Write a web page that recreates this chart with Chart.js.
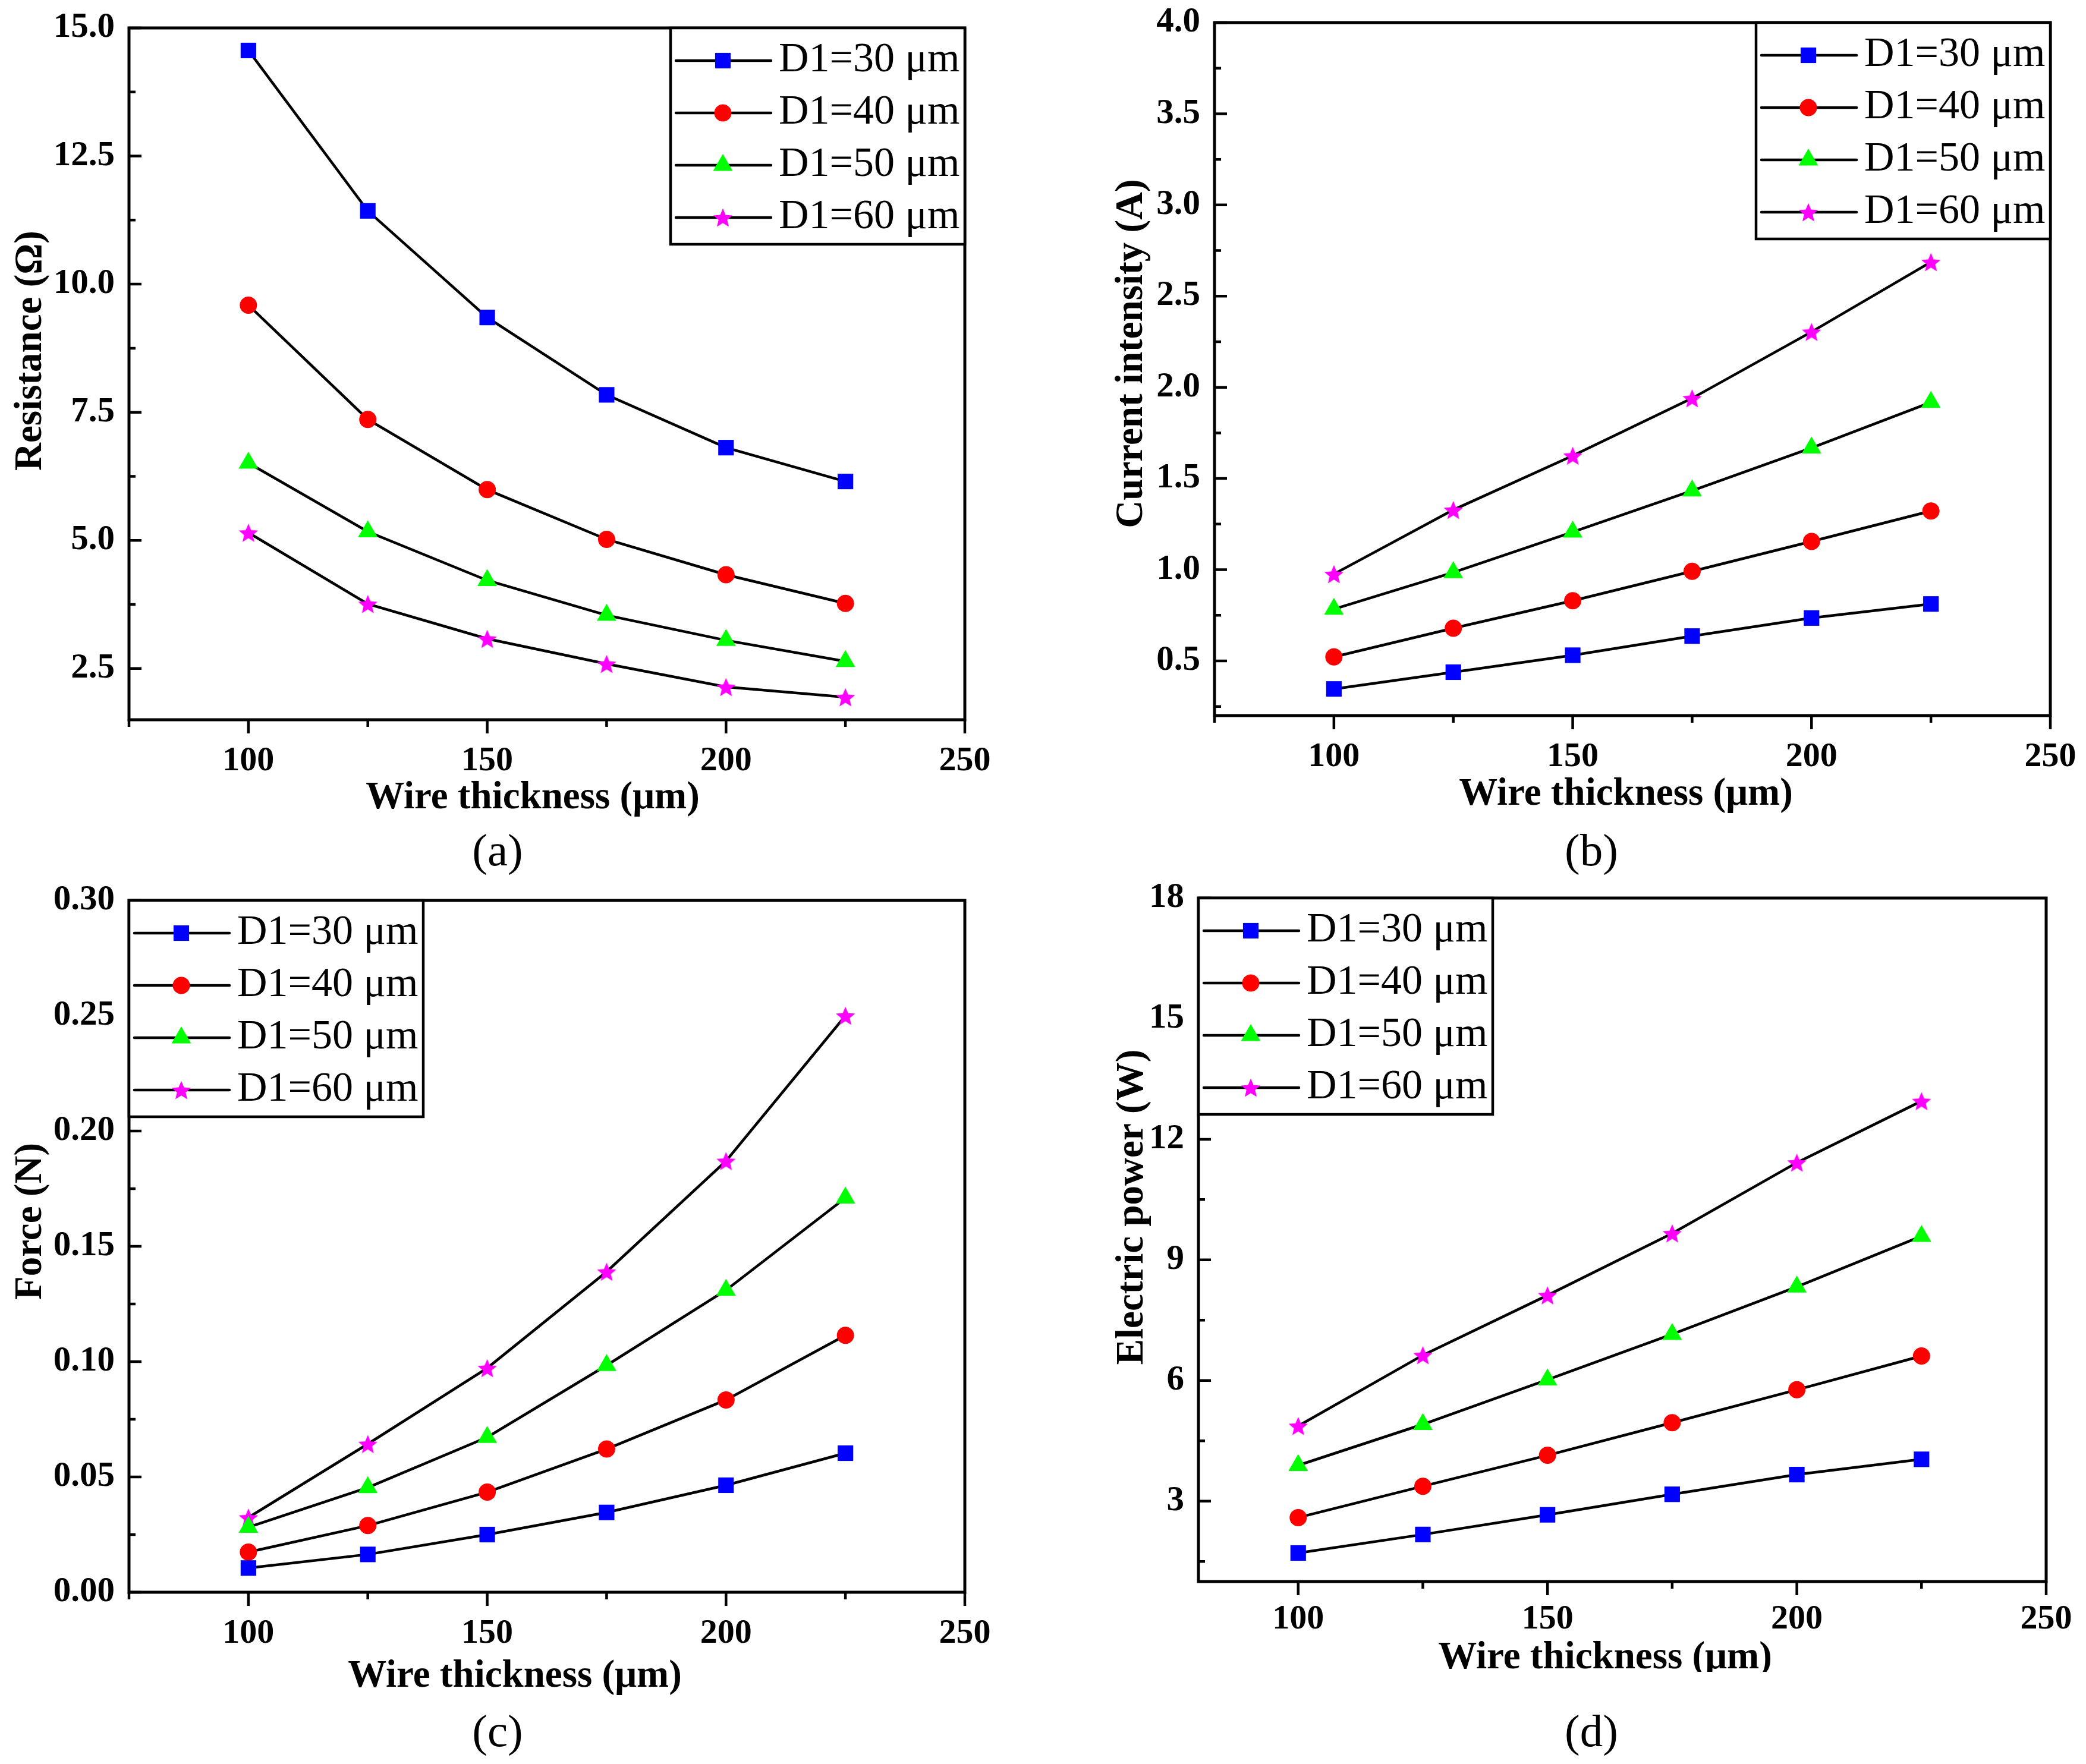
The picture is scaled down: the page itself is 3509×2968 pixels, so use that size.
<!DOCTYPE html>
<html>
<head>
<meta charset="utf-8">
<script src="https://cdn.jsdelivr.net/npm/chart.js@4.4.1/dist/chart.umd.min.js"></script>
<style>
html, body { margin: 0; padding: 0; background: #fff; }
body { width: 3509px; height: 2968px; position: relative; overflow: hidden; }
.wrap { position: absolute; overflow: hidden; }
.tag { position: absolute; font-family: "Liberation Serif", "Times New Roman", serif; font-size: 77px;
       line-height: 1; transform: translate(-50%, -50%); color: #000; }
</style>
</head>
<body>
<div class="wrap" id="wa"><canvas id="ca"></canvas></div>
<div class="wrap" id="wb"><canvas id="cb"></canvas></div>
<div class="wrap" id="wc"><canvas id="cc"></canvas></div>
<div class="wrap" id="wd"><canvas id="cd"></canvas></div>
<div class="tag" style="left:837px; top:1430px;">(a)</div>
<div class="tag" style="left:2677px; top:1430px;">(b)</div>
<div class="tag" style="left:837px; top:2912px;">(c)</div>
<div class="tag" style="left:2677px; top:2912px;">(d)</div>
<script>
// x values (wire thickness, um)
var thickness = [100, 125, 150, 175, 200, 225];
var seriesNames = ["D1=30 μm", "D1=40 μm", "D1=50 μm", "D1=60 μm"];

// (a) resistance (ohm)
var resist30 = [14.56, 11.43, 9.35, 7.84, 6.81, 6.15];
var resist40 = [9.59, 7.36, 5.99, 5.02, 4.33, 3.77];
var resist50 = [6.51, 5.17, 4.22, 3.54, 3.05, 2.64];
var resist60 = [5.15, 3.76, 3.08, 2.59, 2.14, 1.94];

// (b) current intensity (A)
var current30 = [0.346, 0.438, 0.531, 0.636, 0.735, 0.812];
var current40 = [0.522, 0.679, 0.830, 0.991, 1.155, 1.322];
var current50 = [0.784, 0.985, 1.207, 1.433, 1.668, 1.918];
var current60 = [0.976, 1.328, 1.625, 1.940, 2.304, 2.687];

// (c) force (N)
var force30 = [0.0105, 0.0164, 0.0250, 0.0346, 0.0464, 0.0603];
var force40 = [0.0174, 0.0289, 0.0434, 0.0621, 0.0834, 0.1114];
var force50 = [0.0282, 0.0454, 0.0672, 0.0984, 0.1310, 0.1710];
var force60 = [0.0324, 0.0643, 0.0972, 0.1390, 0.1870, 0.2500];

// (d) electric power (W)
var power30 = [1.71, 2.17, 2.66, 3.17, 3.66, 4.04];
var power40 = [2.59, 3.37, 4.14, 4.95, 5.77, 6.61];
var power50 = [3.89, 4.91, 6.02, 7.15, 8.33, 9.59];
var power60 = [4.87, 6.63, 8.12, 9.66, 11.42, 12.95];

// tick labels
var xTicks = [100, 150, 200, 250];
var resistTicks = [2.5, 5.0, 7.5, 10.0, 12.5, 15.0];
var currentTicks = [0.5, 1.0, 1.5, 2.0, 2.5, 3.0, 3.5, 4.0];
var forceTicks = [0.00, 0.05, 0.10, 0.15, 0.20, 0.25, 0.30];
var powerTicks = [3, 6, 9, 12, 15, 18];

var SERIF = '"Liberation Serif", "Times New Roman", serif';
var markerColors = ['#0000FF', '#FF0000', '#00FF00', '#FF00FF'];

function makeStar(size, color) {
    var c = document.createElement('canvas');
    c.width = size; c.height = size;
    var g = c.getContext('2d');
    var R = size / 2 - 1, r = R * 0.45;
    var cx = size / 2, cy = size / 2 + R * 0.1;
    g.beginPath();
    for (var i = 0; i < 10; i++) {
        var a = -Math.PI / 2 + i * Math.PI / 5;
        var rr = i % 2 ? r : R;
        g.lineTo(cx + rr * Math.cos(a), cy + rr * Math.sin(a));
    }
    g.closePath();
    g.fillStyle = color;
    g.fill();
    return c;
}
var star = makeStar(36, '#FF00FF');
var markerStyles = ['rect', 'circle', 'triangle', star];
var markerRadius = [18.5, 14.5, 19, 18];

function minorsOf(majors, min, max) {
    var step = majors[1] - majors[0];
    var out = [];
    for (var v = majors[0] - step / 2; v <= max + 1e-9; v += step) {
        if (v >= min - 1e-9) out.push(v);
    }
    return out;
}

function makeChart(p) {
    var wrap = document.getElementById(p.wrapId);
    var canvas = document.getElementById(p.canvasId);
    wrap.style.left = p.left + 'px';
    wrap.style.top = p.top + 'px';
    wrap.style.width = p.width + 'px';
    wrap.style.height = p.clipH + 'px';
    canvas.width = p.width;
    canvas.height = p.height;

    var yW = p.area.l - p.left;
    var xH = p.top + p.height - p.area.b;
    var xMinor = minorsOf(xTicks, p.xMin, 250);
    var yMinor = minorsOf(p.yTicks, p.yMin, p.yMax);

    var datasets = p.series.map(function (vals, i) {
        return {
            label: seriesNames[i],
            data: thickness.map(function (t, k) { return {x: t, y: vals[k]}; }),
            borderColor: '#000',
            borderWidth: 4.5,
            pointStyle: markerStyles[i],
            pointRadius: markerRadius[i],
            pointBackgroundColor: markerColors[i],
            pointBorderWidth: 0,
            pointHoverRadius: markerRadius[i],
            tension: 0,
            fill: false
        };
    });

    var axesPlugin = {
        id: 'axesPlugin',
        beforeDatasetsDraw: function (chart) {
            var ctx = chart.ctx, a = chart.chartArea;
            var xs = chart.scales.x, ys = chart.scales.y;
            ctx.save();
            ctx.strokeStyle = '#000';
            ctx.lineWidth = 4.5;
            ctx.beginPath();
            xs.ticks.forEach(function (t) {
                var px = xs.getPixelForValue(t.value);
                ctx.moveTo(px, a.bottom); ctx.lineTo(px, a.bottom + 23);
            });
            xMinor.forEach(function (v) {
                var px = xs.getPixelForValue(v);
                ctx.moveTo(px, a.bottom); ctx.lineTo(px, a.bottom + 12);
            });
            ys.ticks.forEach(function (t) {
                var py = ys.getPixelForValue(t.value);
                ctx.moveTo(a.left, py); ctx.lineTo(a.left + 21, py);
            });
            yMinor.forEach(function (v) {
                var py = ys.getPixelForValue(v);
                ctx.moveTo(a.left, py); ctx.lineTo(a.left + 11, py);
            });
            ctx.stroke();
            ctx.lineWidth = 5;
            ctx.strokeRect(a.left, a.top, a.right - a.left, a.bottom - a.top);

            // axis titles
            ctx.fillStyle = '#000';
            ctx.font = 'bold 65px ' + SERIF;
            ctx.textAlign = 'center';
            ctx.textBaseline = 'middle';
            ctx.fillText('Wire thickness (μm)', p.xTitle[0] - p.left, p.xTitle[1] - p.top);
            ctx.translate(p.yTitle[0] - p.left, p.yTitle[1] - p.top);
            ctx.rotate(-Math.PI / 2);
            ctx.fillText(p.yText, 0, 0);
            ctx.restore();
        },
        afterDatasetsDraw: function (chart) {
            var ctx = chart.ctx, a = chart.chartArea;
            var bw = 495, bh = 364;
            var bx = p.legend === 'right' ? a.right - bw : a.left;
            var by = a.top;
            ctx.save();
            ctx.fillStyle = '#fff';
            ctx.fillRect(bx, by, bw, bh);
            ctx.strokeStyle = '#000';
            ctx.lineWidth = 4.5;
            ctx.strokeRect(bx, by, bw, bh);
            chart.data.datasets.forEach(function (ds, i) {
                var cy = by + 55 + i * 88;
                ctx.strokeStyle = '#000';
                ctx.lineWidth = 4.5;
                ctx.lineCap = 'round';
                ctx.beginPath();
                ctx.moveTo(bx + 9, cy); ctx.lineTo(bx + 169, cy);
                ctx.stroke();
                ctx.fillStyle = ds.pointBackgroundColor;
                Chart.helpers.drawPoint(ctx, {pointStyle: ds.pointStyle, radius: ds.pointRadius, borderWidth: 0, rotation: 0}, bx + 88, cy);
                ctx.fillStyle = '#000';
                ctx.font = '70px ' + SERIF;
                ctx.textAlign = 'left';
                ctx.textBaseline = 'middle';
                ctx.fillText(ds.label, bx + 182, cy);
            });
            ctx.restore();
        }
    };

    return new Chart(canvas.getContext('2d'), {
        type: 'line',
        data: {datasets: datasets},
        options: {
            responsive: false,
            devicePixelRatio: 1,
            animation: false,
            layout: {padding: {left: 0, top: p.area.t - p.top, right: p.left + p.width - p.area.r, bottom: 0}},
            plugins: {legend: {display: false}, tooltip: {enabled: false}},
            scales: {
                x: {
                    type: 'linear',
                    min: p.xMin,
                    max: 250,
                    afterBuildTicks: function (s) { s.ticks = xTicks.map(function (v) { return {value: v}; }); },
                    afterFit: function (s) { s.height = xH; s.paddingLeft = 0; s.paddingRight = 0; },
                    grid: {display: false, drawTicks: false},
                    border: {display: false},
                    ticks: {
                        color: '#000', padding: p.xTickPad, maxRotation: 0, autoSkip: false,
                        font: {family: SERIF, size: 58, weight: 'bold'},
                        callback: function (v) { return String(v); }
                    },
                    title: {display: false}
                },
                y: {
                    type: 'linear',
                    min: p.yMin,
                    max: p.yMax,
                    afterBuildTicks: function (s) { s.ticks = p.yTicks.map(function (v) { return {value: v}; }); },
                    afterFit: function (s) { s.width = yW; s.paddingTop = 0; s.paddingBottom = 0; },
                    grid: {display: false, drawTicks: false},
                    border: {display: false},
                    ticks: {
                        color: '#000', padding: 24, autoSkip: false,
                        font: {family: SERIF, size: 59, weight: 'bold'},
                        callback: function (v) { return Number(v).toFixed(p.dec); }
                    },
                    title: {display: false}
                }
            }
        },
        plugins: [axesPlugin]
    });
}

makeChart({
    wrapId: 'wa', canvasId: 'ca', left: 0, top: 0, width: 1720, height: 1390, clipH: 1390,
    area: {l: 217, t: 47, r: 1623, b: 1211},
    xMin: 75, yMin: 1.5, yMax: 15, yTicks: resistTicks, dec: 1, xTickPad: 35,
    yText: 'Resistance (Ω)', xTitle: [896, 1343], yTitle: [52, 590], legend: 'right',
    series: [resist30, resist40, resist50, resist60]
});
makeChart({
    wrapId: 'wb', canvasId: 'cb', left: 1760, top: 0, width: 1749, height: 1390, clipH: 1390,
    area: {l: 2043, t: 38, r: 3449, b: 1204},
    xMin: 75, yMin: 0.2, yMax: 4.0, yTicks: currentTicks, dec: 1, xTickPad: 35,
    yText: 'Current intensity (A)', xTitle: [2735, 1337], yTitle: [1904, 595], legend: 'right',
    series: [current30, current40, current50, current60]
});
makeChart({
    wrapId: 'wc', canvasId: 'cc', left: 0, top: 1450, width: 1720, height: 1419, clipH: 1419,
    area: {l: 217, t: 1515, r: 1623, b: 2679},
    xMin: 75, yMin: 0, yMax: 0.3, yTicks: forceTicks, dec: 2, xTickPad: 35,
    yText: 'Force (N)', xTitle: [866, 2821], yTitle: [52, 2055], legend: 'left',
    series: [force30, force40, force50, force60]
});
makeChart({
    wrapId: 'wd', canvasId: 'cd', left: 1760, top: 1450, width: 1749, height: 1419, clipH: 1363,
    area: {l: 2016, t: 1511, r: 3442, b: 2661},
    xMin: 80, yMin: 1, yMax: 18, yTicks: powerTicks, dec: 0, xTickPad: 29,
    yText: 'Electric power (W)', xTitle: [2700, 2790], yTitle: [1905, 2031], legend: 'left',
    series: [power30, power40, power50, power60]
});
</script>
</body>
</html>
